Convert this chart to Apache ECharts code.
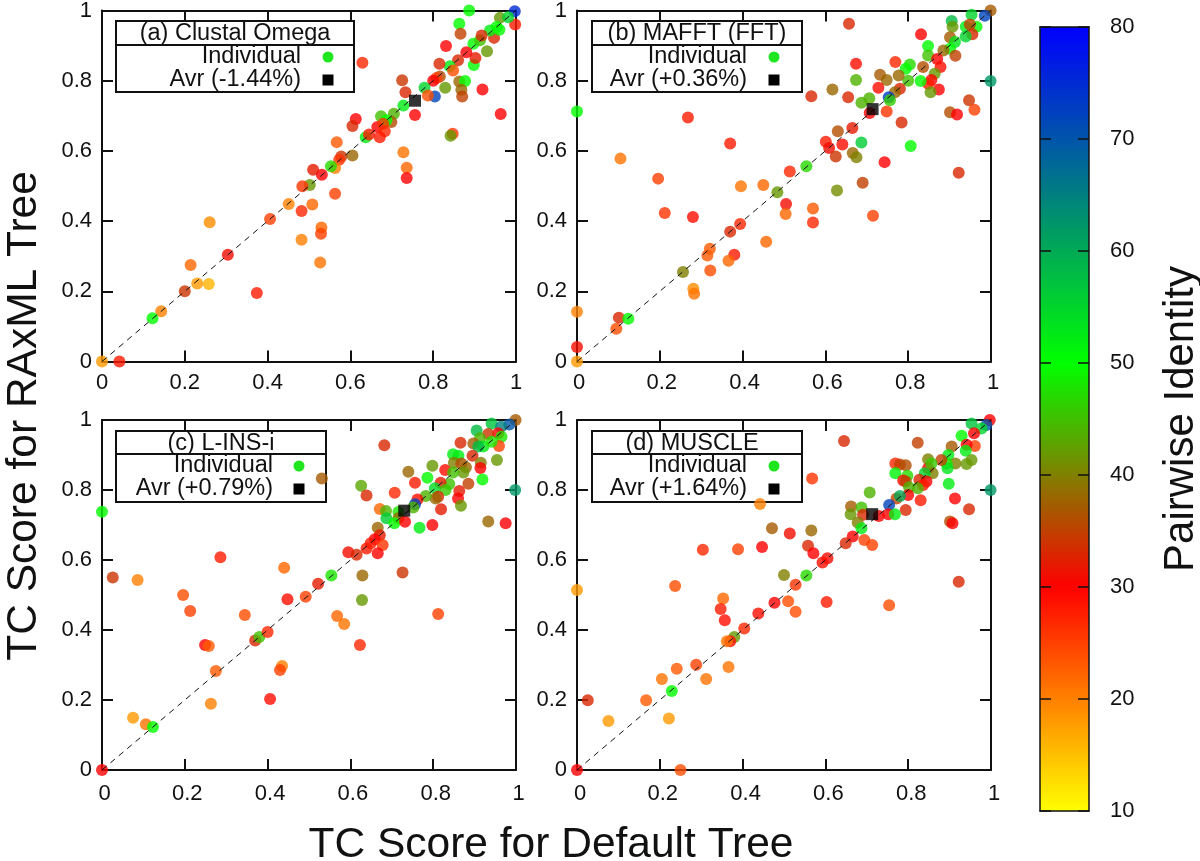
<!DOCTYPE html>
<html><head><meta charset="utf-8">
<style>html,body{margin:0;padding:0;background:#fff}#c{width:1200px;height:861px}</style>
<script src="https://cdn.jsdelivr.net/npm/echarts@6/dist/echarts.min.js"></script>
</head><body><div id="c"></div>
<script>
// [default-tree TC, RAxML-tree TC, pairwise identity]
var pointsA = [[.887,1,50],[.997,.998,75],[.998,.96,28],[.863,.962,50],[.866,.934,35],[.831,.899,30],[.629,.851,27],[.898,.845,50],[.93,.884,42],[.902,.865,32],[.947,.922,33],[.96,.945,50],[.937,.943,52],[.961,.979,42],[.981,.981,55],[.953,.953,50],[.897,.905,50],[.913,.915,45],[.917,.929,33],[.88,.881,30],[.86,.858,33],[.84,.841,52],[.815,.848,33],[.848,.829,24],[.816,.812,36],[.808,.808,25],[.8,.8,30],[.779,.78,55],[.804,.755,72],[.787,.758,24],[.829,.78,42],[.863,.798,38],[.877,.799,50],[.868,.774,38],[.87,.755,35],[.919,.775,30],[.963,.705,30],[.756,.702,30],[.725,.801,34],[.733,.767,33],[.728,.729,52],[.705,.706,44],[.674,.699,45],[.699,.682,36],[.687,.687,50],[.665,.668,30],[.679,.677,26],[.683,.656,27],[.671,.639,28],[.637,.639,52],[.645,.647,28],[.613,.691,30],[.605,.671,33],[.567,.625,23],[.728,.596,21],[.736,.552,22],[.736,.523,30],[.847,.649,26],[.842,.643,42],[.605,.587,38],[.578,.584,34],[.573,.575,26],[.563,.551,20],[.553,.556,47],[.531,.532,30],[.51,.546,32],[.502,.503,42],[.484,.499,26],[.563,.478,25],[.508,.447,22],[.482,.429,27],[.53,.382,22],[.529,.364,25],[.482,.347,20],[.527,.282,21],[.451,.449,20],[.406,.406,25],[.26,.397,19],[.304,.304,31],[.214,.275,22],[.23,.222,18],[.258,.221,16],[.2,.2,34],[.374,.195,28],[.143,.143,20],[.122,.123,50],[.042,0,28],[0,0,18]];
var pointsB = [[.999,1,37],[.985,.985,72],[.953,.988,55],[.905,.97,58],[.907,.954,42],[.939,.954,52],[.965,.954,50],[.949,.96,35],[.955,.932,33],[.939,.926,55],[.901,.924,37],[.913,.91,53],[.901,.891,50],[.885,.886,38],[.914,.871,35],[.848,.899,50],[.848,.872,45],[.831,.932,30],[.657,.962,33],[.87,.862,30],[.878,.839,29],[.864,.82,42],[.856,.802,30],[.848,.791,28],[.874,.775,30],[.854,.767,42],[.83,.799,50],[.804,.846,47],[.794,.834,50],[.8,.8,45],[.836,.839,36],[.769,.853,27],[.777,.815,38],[.732,.817,37],[.748,.802,38],[.674,.848,29],[.674,.802,44],[.617,.775,38],[.566,.756,33],[.655,.753,33],[.728,.78,29],[.78,.777,33],[.768,.767,38],[.706,.75,44],[.687,.737,44],[.753,.753,73],[.756,.744,46],[.707,.708,30],[.748,.712,26],[.784,.681,33],[.947,.744,34],[.901,.71,36],[.918,.704,30],[.96,.717,25],[.999,.799,62],[.806,.614,50],[.687,.624,56],[.665,.665,32],[.63,.656,36],[.601,.626,28],[.609,.608,31],[.641,.618,29],[.625,.584,34],[.666,.594,38],[.675,.582,40],[.743,.568,30],[.922,.538,33],[.69,.509,35],[.628,.487,41],[.554,.556,47],[.514,.541,27],[0,.712,50],[.268,.695,28],[.37,.621,28],[.105,.578,21],[.196,.521,25],[.396,.499,21],[.45,.503,22],[.484,.482,42],[.505,.449,31],[.504,.42,22],[.212,.423,26],[.28,.412,29],[.394,.392,27],[.37,.37,33],[.321,.321,23],[.315,.302,23],[.38,.304,28],[.366,.287,22],[.457,.341,22],[.322,.259,24],[.256,.255,40],[.281,.207,19],[.283,.193,21],[0,.142,20],[.101,.125,33],[.124,.122,50],[.095,.093,24],[0,.041,31],[0,0,18],[.57,.396,27],[.57,.436,23],[.715,.415,25]];
var pointsC = [[.999,1,37],[.984,.987,70],[.941,.99,57],[.964,.981,65],[.905,.97,58],[.957,.962,30],[.933,.96,34],[.965,.952,48],[.913,.948,44],[.866,.935,33],[.897,.933,37],[.959,.926,25],[.921,.924,52],[.909,.924,58],[.941,.938,48],[.895,.898,33],[.848,.902,52],[.861,.898,52],[.954,.886,42],[.915,.878,40],[.914,.863,30],[.798,.869,42],[.829,.857,29],[.85,.878,40],[.868,.876,36],[.879,.865,38],[.873,.85,42],[.848,.85,45],[.74,.852,38],[.786,.835,50],[.756,.821,28],[.682,.928,33],[.626,.812,43],[.639,.784,33],[.919,.83,50],[.885,.818,35],[.839,.817,45],[.818,.821,32],[.804,.805,54],[.83,.8,46],[.863,.797,32],[.86,.776,30],[.867,.755,42],[.812,.781,33],[.806,.776,38],[.819,.745,32],[.782,.783,44],[.762,.773,29],[.756,.759,72],[.707,.792,27],[.752,.75,44],[.671,.746,22],[.686,.74,44],[.716,.737,48],[.687,.719,56],[.716,.719,38],[.706,.705,50],[.732,.709,30],[.767,.692,52],[.798,.7,30],[.933,.71,38],[.975,.705,30],[.998,.8,62],[.666,.692,38],[.671,.671,32],[.659,.659,30],[.649,.648,28],[.678,.643,26],[.639,.633,28],[.666,.619,30],[.595,.622,31],[.615,.615,33],[.554,.556,48],[.629,.556,38],[.726,.564,34],[.522,.532,32],[.492,.495,25],[.628,.486,42],[.531,.833,37],[0,.738,50],[.026,.55,34],[.086,.543,20],[.286,.608,28],[.44,.578,22],[.196,.5,24],[.448,.488,29],[.213,.454,25],[.345,.443,24],[.568,.44,22],[.585,.417,21],[.623,.357,27],[.812,.446,25],[.249,.357,30],[.258,.354,23],[.263,.189,20],[.275,.283,23],[.37,.37,33],[.38,.38,45],[.4,.394,27],[.406,.203,29],[.435,.297,20],[.43,.286,25],[.075,.149,18],[.106,.131,21],[.123,.123,50],[0,0,30]];
var pointsD = [[.997,1,30],[.989,.986,70],[.953,.99,57],[.977,.976,55],[.929,.955,50],[.959,.962,30],[.961,.926,25],[.905,.924,37],[.941,.929,30],[.939,.912,52],[.897,.9,52],[.953,.886,42],[.941,.874,42],[.914,.876,40],[.893,.876,48],[.895,.862,53],[.88,.886,35],[.848,.888,40],[.645,.94,33],[.823,.935,35],[.769,.876,27],[.78,.873,35],[.794,.871,36],[.769,.848,51],[.848,.862,30],[.856,.876,46],[.859,.848,40],[.84,.848,55],[.898,.818,52],[.568,.833,26],[.798,.841,47],[.788,.827,31],[.794,.824,35],[.827,.829,33],[.844,.824,30],[.836,.814,28],[.802,.808,44],[.823,.805,44],[.8,.786,30],[.772,.776,35],[.78,.783,60],[.707,.793,44],[.83,.771,28],[.913,.776,30],[.947,.745,33],[.901,.71,36],[.907,.705,30],[.999,.8,62],[.754,.757,72],[.794,.743,33],[.662,.753,37],[.687,.75,45],[.661,.731,42],[.691,.729,33],[.729,.726,30],[.752,.731,30],[.768,.731,52],[.678,.707,40],[.687,.691,52],[.666,.667,30],[.694,.657,25],[.713,.643,25],[.649,.648,33],[.558,.641,33],[.566,.684,38],[.514,.676,31],[.571,.619,30],[.605,.605,31],[.593,.593,29],[.5,.557,40],[.554,.556,47],[.528,.529,26],[.922,.538,33],[.603,.48,28],[0,.514,18],[.237,.526,24],[.51,.482,24],[.528,.452,24],[.477,.478,30],[.438,.447,29],[.353,.49,22],[.347,.46,28],[.357,.428,29],[.404,.404,27],[.38,.38,42],[.37,.368,29],[.362,.368,21],[.366,.294,21],[.288,.301,25],[.241,.289,23],[.205,.26,21],[.312,.26,21],[.167,.199,23],[.026,.199,33],[.229,.226,50],[.076,.14,18],[.222,.147,18],[.25,0,24],[0,0,30],[.442,.76,20],[.471,.691,37],[.389,.631,25],[.447,.637,30],[.304,.629,27],[.754,.471,24]];
var avrA = [[.756,.743]], avrB = [[.714,.719]], avrC = [[.73,.741]], avrD = [[.713,.731]];
var diagonal = [[0,0],[1,1]];
var titles = ['(a) Clustal Omega','(b) MAFFT (FFT)','(c) L-INS-i','(d) MUSCLE'];
var avrLabels = ['Avr (-1.44%)','Avr (+0.36%)','Avr (+0.79%)','Avr (+1.64%)'];
var individualLabel = 'Individual';
var scoreTicks = [0,0.2,0.4,0.6,0.8,1];
var identityTicks = [10,20,30,40,50,60,70,80];
var paletteStops = ['#ffff00','#ff8000','#ff0000','#808000','#00ff00','#00aa55','#0055aa','#0000ff'];

var FONT='"Liberation Sans", Arial, sans-serif', INK='#111';
var allPts=[pointsA,pointsB,pointsC,pointsD], allAvr=[avrA,avrB,avrC,avrD];
var frames=[{l:102,t:10.5,h:351,lm:10,ls:0},{l:577,t:10.5,h:351,lm:10,ls:4},{l:102,t:420,h:350,lm:13,ls:5},{l:577,t:420,h:350,lm:13,ls:6}];
var keys=[
 {l:116,r:354,t:21,m:45,b:92,tx:235,rx:301,kx:328,y1:57,y2:80},
 {l:592,r:802,t:21,m:45,b:92,tx:697,rx:747,kx:774,y1:57,y2:80},
 {l:116,r:326,t:431,m:454,b:502,tx:221,rx:273,kx:299,y1:466,y2:489},
 {l:592,r:802,t:431,m:454,b:502,tx:692,rx:747,kx:774,y1:466,y2:489}];
var grids=[],xAxes=[],yAxes=[],series=[],graphics=[],indiv=[];
function base(g,pos,labels,len,ticks,max){return {type:'value',gridIndex:g,position:pos,min:ticks[0],max:max,interval:ticks[1]-ticks[0],
 splitLine:{show:false},axisLine:{show:true,onZero:false,lineStyle:{color:INK,width:2}},
 axisTick:{show:true,inside:true,length:len,lineStyle:{color:INK,width:2}},
 axisLabel:{show:labels,fontFamily:FONT,fontSize:22,color:'#111',margin:10},z:1};}
frames.forEach(function(f,i){
 grids.push({left:f.l,top:f.t,width:414,height:f.h,containLabel:false,outerBoundsMode:'none'});
 var xb=base(i,'bottom',true,11,scoreTicks,1);xb.axisLabel.margin=f.lm;xb.axisLabel.padding=[0,0,0,f.ls];
 xAxes.push(xb);
 xAxes.push(base(i,'top',false,11,scoreTicks,1));
 yAxes.push(base(i,'left',true,11,scoreTicks,1));
 yAxes.push(base(i,'right',false,11,scoreTicks,1));
 var xi=i*2,yi=i*2;
 indiv.push(series.length);
 series.push({type:'scatter',xAxisIndex:xi,yAxisIndex:yi,data:allPts[i],symbol:'circle',symbolSize:12,clip:false,z:3,encode:{x:0,y:1}});
 series.push({type:'line',xAxisIndex:xi,yAxisIndex:yi,data:diagonal,symbol:'none',silent:true,z:4,lineStyle:{color:'#111',width:1,type:[6,5]}});
 series.push({type:'scatter',xAxisIndex:xi,yAxisIndex:yi,data:allAvr[i],symbol:'rect',symbolSize:12,clip:false,z:5,itemStyle:{color:'#000'}});
 var k=keys[i],ls={stroke:INK,lineWidth:2};
 graphics.push({type:'rect',shape:{x:k.l,y:k.t,width:k.r-k.l,height:k.b-k.t},style:{fill:null,stroke:INK,lineWidth:2},silent:true,z:1});
 graphics.push({type:'line',shape:{x1:k.l,y1:k.m,x2:k.r,y2:k.m},style:ls,silent:true,z:1});
 function txt(s,x,y,a){return {type:'text',x:x,y:y,silent:true,z:1,style:{text:s,fill:'#111',font:'23.5px '+FONT,textAlign:a,textVerticalAlign:'middle'}};}
 graphics.push(txt(titles[i],k.tx,k.t+12.5,'center'));
 graphics.push(txt(individualLabel,k.rx,k.y1,'right'));
 graphics.push(txt(avrLabels[i],k.rx,k.y2,'right'));
 graphics.push({type:'circle',shape:{cx:k.kx,cy:k.y1,r:5.5},style:{fill:'#1fe61f'},silent:true,z:1});
 graphics.push({type:'rect',shape:{x:k.kx-5.5,y:k.y2-5.5,width:11,height:11},style:{fill:'#000'},silent:true,z:1});
});
// colour bar frame and scale
var cb=grids.length;
grids.push({left:1040,top:27,width:49,height:784,outerBoundsMode:'none'});
xAxes.push({type:'value',gridIndex:cb,position:'bottom',min:0,max:1,axisLabel:{show:false},axisTick:{show:false},splitLine:{show:false},axisLine:{show:true,onZero:false,lineStyle:{color:INK,width:1.5}},z:10});
xAxes.push({type:'value',gridIndex:cb,position:'top',min:0,max:1,axisLabel:{show:false},axisTick:{show:false},splitLine:{show:false},axisLine:{show:true,onZero:false,lineStyle:{color:INK,width:1.5}},z:10});
var yL=base(cb,'left',false,11,identityTicks,80);yL.z=10;yL.axisLine.lineStyle.width=1.5;yL.axisTick.lineStyle.width=1.5;yAxes.push(yL);
var yR=base(cb,'right',true,11,identityTicks,80);yR.z=10;yR.axisLine.lineStyle.width=1.5;yR.axisTick.lineStyle.width=1.5;yR.axisLabel.margin=21;
yR.name='Pairwise Identity';yR.nameLocation='middle';yR.nameRotate=90;yR.nameGap=71;yR.nameTextStyle={fontFamily:FONT,fontSize:42,color:'#111'};yAxes.push(yR);
series.push({type:'line',xAxisIndex:cb*2,yAxisIndex:cb*2,data:[],silent:true});
graphics.push({type:'text',x:551,y:845,silent:true,style:{text:'TC Score for Default Tree',fill:'#111',font:'42.5px '+FONT,textAlign:'center',textVerticalAlign:'middle'}});
graphics.push({type:'text',x:24,y:416,rotation:Math.PI/2,silent:true,style:{text:'TC Score for RAxML Tree',fill:'#111',font:'42.5px '+FONT,textAlign:'center',textVerticalAlign:'middle'}});

var chart=echarts.init(document.getElementById('c'),null,{renderer:'canvas'});
chart.setOption({backgroundColor:'#fff',animation:false,grid:grids,xAxis:xAxes,yAxis:yAxes,series:series,graphic:graphics,
 visualMap:[{type:'continuous',min:10,max:80,dimension:2,seriesIndex:indiv,left:1040,top:27,itemWidth:49,itemHeight:784,text:null,showLabel:false,calculable:false,realtime:false,padding:0,hoverLink:false,z:1,
  inRange:{color:paletteStops},textStyle:{color:'rgba(0,0,0,0)',fontSize:1}}]});
</script></body></html>
